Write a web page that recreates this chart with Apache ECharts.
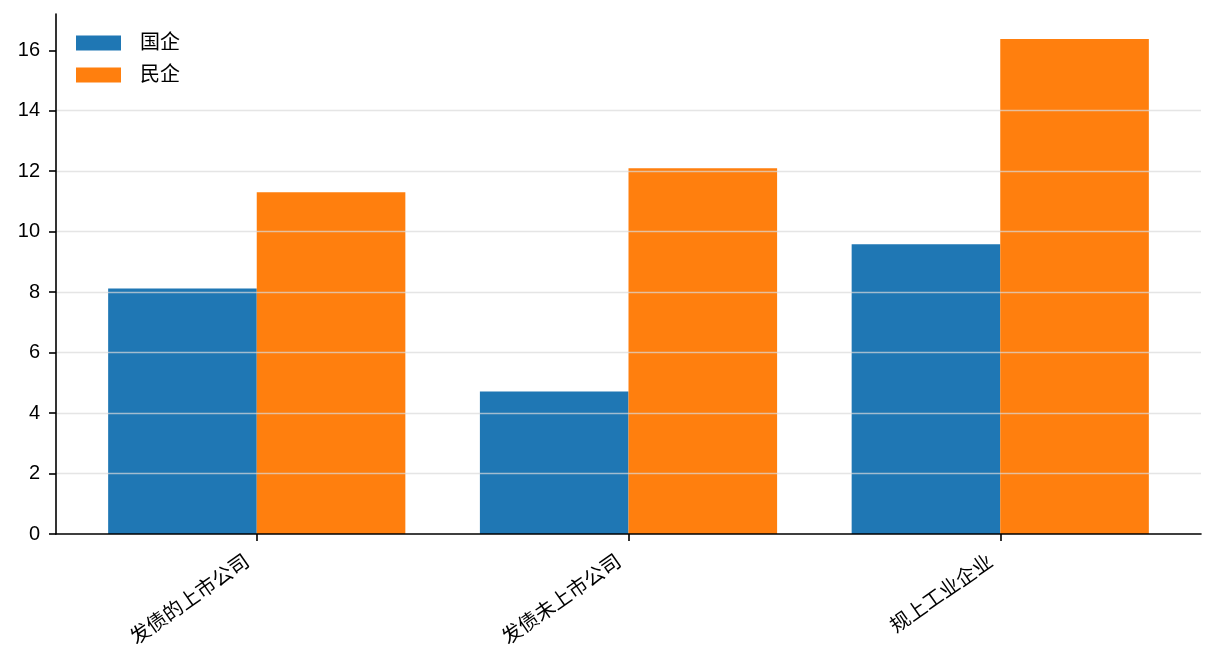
<!DOCTYPE html>
<html><head><meta charset="utf-8">
<script src="https://cdn.jsdelivr.net/npm/echarts@6/dist/echarts.min.js"></script>
<style>html,body{margin:0;padding:0;background:#fff}#c{width:1216px;height:672px}</style>
</head><body><div id="c"></div>
<script>
var categories = ['发债的上市公司', '发债未上市公司', '规上工业企业'];
var seriesNames = ['国企', '民企'];
var soeValues = [8.12, 4.71, 9.58];
var poeValues = [11.30, 12.10, 16.37];
var yTicks = [0, 2, 4, 6, 8, 10, 12, 14, 16];
var xTicks = [0, 1, 2];

var FONT = '"Liberation Sans", Arial, "Noto Sans CJK SC", sans-serif';
function pts(vals){ return vals.map(function(v,i){ return [i, v]; }); }

var chart = echarts.init(document.getElementById('c'), null, {renderer:'canvas'});
chart.setOption({
  animation: false,
  backgroundColor: '#fff',
  textStyle: {fontFamily: FONT},
  grid: {left: 56, right: 15, top: 14, bottom: 138, outerBoundsMode: 'none', containLabel: false},
  legend: {
    orient: 'vertical', left: 76, top: 33, padding: 0,
    itemWidth: 45, itemHeight: 15, itemGap: 12,
    icon: 'rect',
    textStyle: {fontSize: 20, lineHeight: 20, color: '#000', fontFamily: FONT, padding: [0,0,0,14]},
    data: seriesNames
  },
  xAxis: {
    type: 'value', min: -0.54, max: 2.54, z: 5,
    axisLine: {show: true, onZero: false, lineStyle: {color: '#000', width: 1.6}},
    axisTick: {show: true, customValues: xTicks, length: 7, lineStyle: {color: '#000', width: 1.6}},
    axisLabel: {customValues: xTicks, rotate: 35, margin: 32, fontSize: 20, color: '#000', fontFamily: FONT,
      verticalAlign: 'bottom', padding: [0, 4, 0, 0],
      formatter: function(v){ return categories[Math.round(v)]; }},
    splitLine: {show: false}
  },
  yAxis: {
    type: 'value', min: 0, max: 17.2, z: 5,
    axisLine: {show: true, onZero: false, lineStyle: {color: '#000', width: 1.6}},
    axisTick: {show: true, customValues: yTicks, length: 7, lineStyle: {color: '#000', width: 1.6}},
    axisLabel: {customValues: yTicks, margin: 16, fontSize: 20, color: '#000', fontFamily: FONT},
    splitLine: {show: true, showMinLine: false, showMaxLine: false, lineStyle: {color: 'rgba(218,218,218,0.7)', width: 1.3}}
  },
  series: [
    {name: seriesNames[0], type: 'bar', data: pts(soeValues), barWidth: 148.6, barGap: '0%', itemStyle: {color: '#1f77b4'}, z: 2},
    {name: seriesNames[1], type: 'bar', data: pts(poeValues), barWidth: 148.6, barGap: '0%', itemStyle: {color: '#ff7f0e'}, z: 2}
  ]
});
</script></body></html>
